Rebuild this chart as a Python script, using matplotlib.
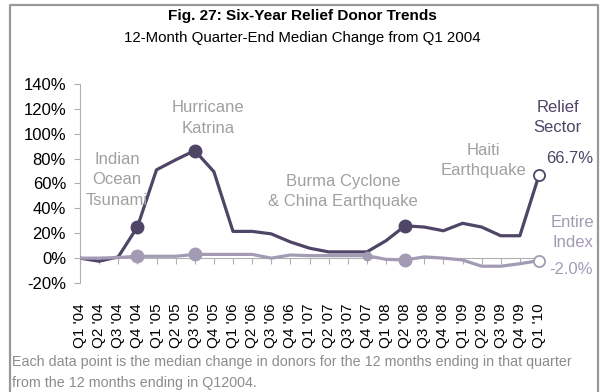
import matplotlib.pyplot as plt
import numpy as np
from matplotlib.lines import Line2D

plt.rcParams['font.family'] = ['Liberation Sans', 'DejaVu Sans']

quarters = ["Q1 '04", "Q2 '04", "Q3 '04", "Q4 '04", "Q1 '05", "Q2 '05", "Q3 '05",
            "Q4 '05", "Q1 '06", "Q2 '06", "Q3 '06", "Q4 '06", "Q1 '07", "Q2 '07",
            "Q3 '07", "Q4 '07", "Q1 '08", "Q2 '08", "Q3 '08", "Q4 '08", "Q1 '09",
            "Q2 '09", "Q3 '09", "Q4 '09", "Q1 '10"]
relief = [0, -2.5, 1, 25, 71, 79, 86.5, 69.5, 21.5, 21.5, 19.5, 13, 8, 5, 5, 5,
          14, 26, 25, 22, 28, 25, 18, 18, 66.7]
entire = [0, 0, 0.5, 1.5, 1.5, 1.5, 3, 3, 3, 3, 0, 2.5, 2, 2, 2, 2,
          -1, -1.5, 1, 0, -1.5, -6.5, -6.5, -4.5, -2.0]
event_idx = [3, 6, 17]      # tsunami, katrina, burma/china
extra_idx = [15]            # small marker on index line
last_idx = [24]

dark = '#4f4567'
light = '#a39bb4'
grey = '#a0a0a0'

x = np.arange(len(quarters))
relief = np.array(relief)
entire = np.array(entire)

fig = plt.figure(figsize=(6.02, 3.92), dpi=100)
ax = fig.add_axes([80 / 602, 109 / 392, 459 / 602, 199 / 392])

ax.plot(x, relief, color=dark, lw=2.3, zorder=3)
ax.plot(x[event_idx], relief[event_idx], 'o', ms=9, color=dark, zorder=4)
ax.plot(x[last_idx], relief[last_idx], 'o', ms=8, mfc='white', mec=dark, mew=1.3,
        zorder=4, clip_on=False)

ax.plot(x, entire, color=light, lw=2.3, zorder=5)
ax.plot(x[event_idx], entire[event_idx], 'o', ms=9, color=light, zorder=6)
ax.plot(x[extra_idx], entire[extra_idx], 'o', ms=6, color=light, zorder=6)
ax.plot(x[last_idx], entire[last_idx], 'o', ms=8, mfc='white', mec=light, mew=1.3,
        zorder=6, clip_on=False)

ax.set_xlim(0, 24)
ax.set_ylim(-20, 140)
ax.set_yticks(np.arange(-20, 141, 20))
ax.set_yticklabels([f"{v}%" for v in range(-20, 141, 20)])
ax.tick_params(axis='y', length=4, color='#b0b0b0', labelsize=12, pad=6)

ax.spines['top'].set_visible(False)
ax.spines['right'].set_visible(False)
ax.spines['left'].set_color('#b0b0b0')
ax.spines['bottom'].set_color('#b0b0b0')
ax.spines['bottom'].set_position(('data', 0))
ax.set_xticks(x)
ax.tick_params(axis='x', length=4, color='#b0b0b0', labelbottom=False)

sec = ax.secondary_xaxis('bottom')
sec.set_xticks(x, quarters, rotation=90)
sec.tick_params(length=0, pad=15, labelsize=11)
sec.spines['bottom'].set_visible(False)

ann = dict(ha='center', va='center', fontsize=12, color=grey, linespacing=1.45)
ax.text(1.93, 63, "Indian\nOcean\nTsunami", **ann)
ax.text(6.7, 112.7, "Hurricane\nKatrina", **ann)
ax.text(13.75, 53.6, "Burma Cyclone\n& China Earthquake", **ann)
ax.text(21.1, 78.6, "Haiti\nEarthquake", **ann)

ax.text(24.97, 113, "Relief\nSector", ha='center', va='center', fontsize=12,
        color=dark, linespacing=1.45, clip_on=False)
ax.text(25.6, 80.4, "66.7%", ha='center', va='center', fontsize=12, color=dark, clip_on=False)
ax.text(25.75, 20.4, "Entire\nIndex", ha='center', va='center', fontsize=12,
        color=light, linespacing=1.45, clip_on=False)
ax.text(25.66, -9.1, "-2.0%", ha='center', va='center', fontsize=12, color=light, clip_on=False)

fig.text(302 / 602, 1 - 16 / 392, "Fig. 27: Six-Year Relief Donor Trends",
         ha='center', va='center', fontsize=11.1, fontweight='bold')
fig.text(302 / 602, 1 - 38 / 392, "12-Month Quarter-End Median Change from Q1 2004",
         ha='center', va='center', fontsize=10.8)

fig.text(12 / 602, 1 - 362 / 392,
         "Each data point is the median change in donors for the 12 months ending in that quarter",
         ha='left', va='center', fontsize=10.3, color='#8c8c8c')
fig.text(12 / 602, 1 - 383 / 392, "from the 12 months ending in Q12004.",
         ha='left', va='center', fontsize=10.3, color='#8c8c8c')

bx = [10 / 602, 10 / 602, 598 / 602, 598 / 602]
by = [0, 1 - 5 / 392, 1 - 5 / 392, 0]
fig.add_artist(Line2D(bx, by, transform=fig.transFigure, color='#999999', lw=1.6))

fig.savefig('out.png', dpi=100)
